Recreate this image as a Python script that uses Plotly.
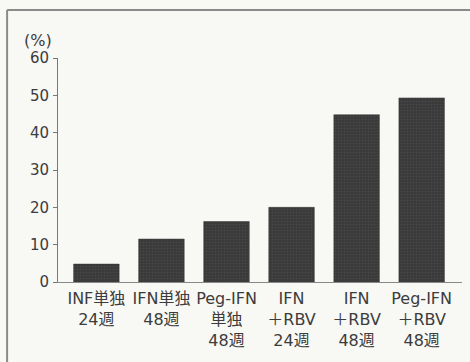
import plotly.graph_objects as go

# Treatment regimens and response rates (%)
categories = ["INF単独<br>24週", "IFN単独<br>48週", "Peg-IFN<br>単独<br>48週",
              "IFN<br>＋RBV<br>24週", "IFN<br>＋RBV<br>48週", "Peg-IFN<br>＋RBV<br>48週"]
rates = [4.8, 11.5, 16.2, 20, 44.8, 49.3]
y_ticks = [0, 10, 20, 30, 40, 50, 60]

FONT = "DejaVu Sans, Noto Sans CJK JP"
TEXT = "#3c3c3c"
BG = "#f8f8f5"

fig = go.Figure(go.Bar(
    x=list(range(len(categories))),
    y=rates,
    marker=dict(color="#3c3c3c", line=dict(color="#333333", width=0.5),
                pattern=dict(shape=".", fgcolor="#575757", bgcolor="#3a3a3a",
                             size=3, solidity=0.25)),
    width=0.7,
    hoverinfo="skip",
))

fig.update_layout(
    width=470, height=362,
    margin=dict(l=58, r=8, t=58, b=80),
    paper_bgcolor=BG, plot_bgcolor=BG,
    showlegend=False,
    font=dict(family=FONT, size=15, color=TEXT),
    xaxis=dict(
        range=[-0.59, 5.62],
        tickmode="array", tickvals=list(range(len(categories))), ticktext=categories,
        showline=True, linecolor="#888888", linewidth=1,
        ticks="", showgrid=False, zeroline=False,
        tickfont=dict(family=FONT, size=16, color=TEXT),
        ticklabelstandoff=2,
    ),
    yaxis=dict(
        range=[0, 60], tickvals=y_ticks,
        showline=True, linecolor="#777777", linewidth=1,
        ticks="outside", ticklen=4, tickcolor="#777777",
        showgrid=False, zeroline=False,
        tickfont=dict(family=FONT, size=15, color=TEXT),
        ticklabelstandoff=1,
    ),
    annotations=[dict(
        text="(%)", xref="paper", yref="paper", x=-0.05, y=1.08,
        xanchor="center", yanchor="middle", showarrow=False,
        font=dict(family=FONT, size=16, color=TEXT),
    )],
    shapes=[
        # panel frame: top and left edges, the rest runs off the page
        dict(type="line", xref="paper", yref="paper",
             x0=-0.126, x1=1.05, y0=1.214, y1=1.214,
             line=dict(color="#8a8a8a", width=2)),
        dict(type="line", xref="paper", yref="paper",
             x0=-0.126, x1=-0.126, y0=1.214, y1=-0.4,
             line=dict(color="#8a8a8a", width=2)),
    ],
)

fig.write_html("out.html")
